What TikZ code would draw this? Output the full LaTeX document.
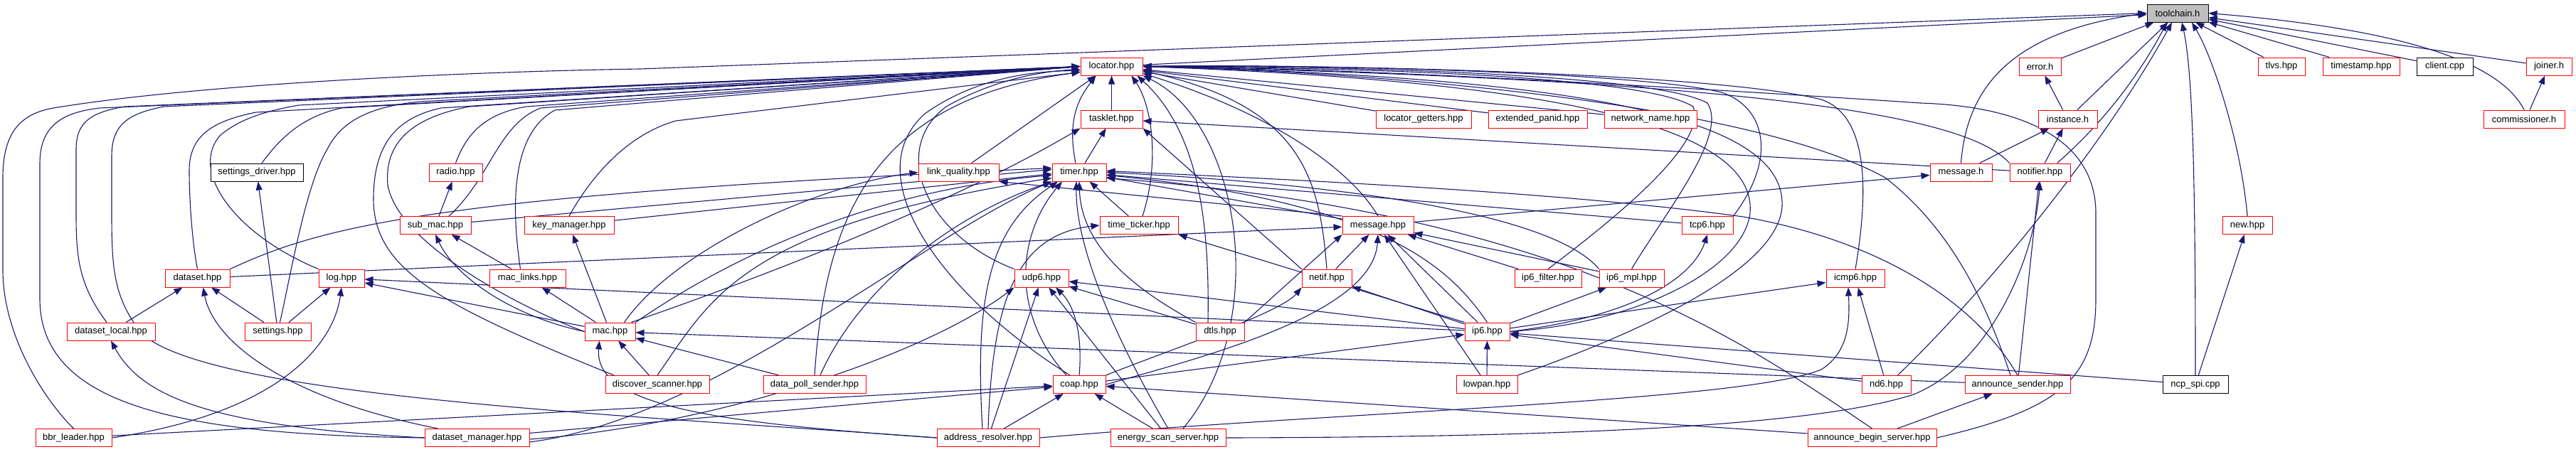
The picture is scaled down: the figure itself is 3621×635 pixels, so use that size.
\documentclass[tikz,border=0pt]{standalone}
\usepackage{fontspec}
\setmainfont{Liberation Sans}
\usetikzlibrary{arrows.meta}
\pgfdeclarelayer{bg}
\pgfsetlayers{bg,main}
\definecolor{dblue}{HTML}{191970}
\definecolor{rootgray}{HTML}{BFBFBF}
\tikzset{
  nd/.style={draw=red, fill=white, line width=1pt, minimum height=25pt, inner sep=0pt, font=\fontsize{13}{15}\selectfont},
  blk/.style={nd, draw=black},
  dep/.style={draw=dblue, line width=1.1pt, -{Triangle[length=12pt,width=9pt]}},
}
\begin{document}
\begin{tikzpicture}[x=1pt,y=-1pt]
\useasboundingbox (0,0) rectangle (3621,635);
% rank 0
\node[blk, fill=rootgray, minimum width=86pt] (toolchain) at (3061,18.5) {toolchain.h};
% rank 1
\node[nd, minimum width=87pt] (locator) at (1562.5,93.5) {locator.hpp};
\node[nd, minimum width=59pt] (error) at (2867.5,93.5) {error.h};
\node[nd, minimum width=66pt] (tlvs) at (3207,93.5) {tlvs.hpp};
\node[nd, minimum width=108pt] (timestamp) at (3319,93.5) {timestamp.hpp};
\node[blk, minimum width=79pt] (client) at (3436.5,93.5) {client.cpp};
\node[nd, minimum width=64pt] (joiner) at (3583,93.5) {joiner.h};
% rank 2
\node[nd, minimum width=87pt] (tasklet) at (1562.5,167.5) {tasklet.hpp};
\node[nd, minimum width=134pt] (locgetters) at (2001,167.5) {locator\_getters.hpp};
\node[nd, minimum width=139pt] (extpanid) at (2161.5,167.5) {extended\_panid.hpp};
\node[nd, minimum width=130pt] (netname) at (2320,167.5) {network\_name.hpp};
\node[nd, minimum width=83pt] (instance) at (2906.5,167.5) {instance.h};
\node[nd, minimum width=114pt] (commissioner) at (3548,167.5) {commissioner.h};
% rank 3
\node[blk, minimum width=130pt] (settingsdriver) at (361,242.5) {settings\_driver.hpp};
\node[nd, minimum width=75pt] (radio) at (640.5,242.5) {radio.hpp};
\node[nd, minimum width=113pt] (linkquality) at (1347.5,242.5) {link\_quality.hpp};
\node[nd, minimum width=76pt] (timer) at (1517,242.5) {timer.hpp};
\node[nd, minimum width=87pt] (messageh) at (2756.5,242.5) {message.h};
\node[nd, minimum width=85pt] (notifier) at (2867.5,242.5) {notifier.hpp};
% rank 4
\node[nd, minimum width=100pt] (submac) at (612,317) {sub\_mac.hpp};
\node[nd, minimum width=126pt] (keymanager) at (800,317) {key\_manager.hpp};
\node[nd, minimum width=110pt] (timeticker) at (1601,317) {time\_ticker.hpp};
\node[nd, minimum width=100pt] (messagehpp) at (1937,317) {message.hpp};
\node[nd, minimum width=72pt] (tcp6) at (2400,317) {tcp6.hpp};
\node[nd, minimum width=70pt] (new) at (3159,317) {new.hpp};
% rank 5
\node[nd, minimum width=91pt] (dataset) at (277.5,391.5) {dataset.hpp};
\node[nd, minimum width=64pt] (log) at (480,391.5) {log.hpp};
\node[nd, minimum width=107pt] (maclinks) at (741.5,391.5) {mac\_links.hpp};
\node[nd, minimum width=76pt] (udp6) at (1464,391.5) {udp6.hpp};
\node[nd, minimum width=70pt] (netif) at (1865,391.5) {netif.hpp};
\node[nd, minimum width=94pt] (ip6filter) at (2176,391.5) {ip6\_filter.hpp};
\node[nd, minimum width=91pt] (ip6mpl) at (2293.5,391.5) {ip6\_mpl.hpp};
\node[nd, minimum width=82pt] (icmp6) at (2608,391.5) {icmp6.hpp};
% rank 6
\node[nd, minimum width=124pt] (datasetlocal) at (156,466.5) {dataset\_local.hpp};
\node[nd, minimum width=93pt] (settings) at (390.5,466.5) {settings.hpp};
\node[nd, minimum width=71pt] (mac) at (857.5,466.5) {mac.hpp};
\node[nd, minimum width=68pt] (dtls) at (1715,466.5) {dtls.hpp};
\node[nd, minimum width=63pt] (ip6) at (2090.5,466.5) {ip6.hpp};
% rank 7
\node[nd, minimum width=146pt] (discover) at (924,541) {discover\_scanner.hpp};
\node[nd, minimum width=144pt] (datapoll) at (1145,541) {data\_poll\_sender.hpp};
\node[nd, minimum width=74pt] (coap) at (1517,541) {coap.hpp};
\node[nd, minimum width=86pt] (lowpan) at (2090,541) {lowpan.hpp};
\node[nd, minimum width=69pt] (nd6) at (2651.5,541) {nd6.hpp};
\node[nd, minimum width=148pt] (announcesender) at (2836,541) {announce\_sender.hpp};
\node[blk, minimum width=92pt] (ncpspi) at (3086,541) {ncp\_spi.cpp};
% rank 8
\node[nd, minimum width=107pt] (bbrleader) at (103.5,616) {bbr\_leader.hpp};
\node[nd, minimum width=147pt] (datasetmanager) at (670.5,616) {dataset\_manager.hpp};
\node[nd, minimum width=144pt] (addrresolver) at (1389,616) {address\_resolver.hpp};
\node[nd, minimum width=162pt] (energyscan) at (1642,616) {energy\_scan\_server.hpp};
\node[nd, minimum width=181pt] (announcebegin) at (2631.5,616) {announce\_begin\_server.hpp};

\begin{pgfonlayer}{bg}
% ---- toolchain.h and top-right cluster
\draw[dep] (locator) -- (toolchain);
\draw[dep] (bbrleader.north) .. controls (60,560) and (4,470) .. (4,380) -- (4,250) .. controls (4,185) and (30,160) .. (75,152) .. controls (300,115) and (700,100) .. (900,97) -- (toolchain.west);
\draw[dep] (error) -- (toolchain);
\draw[dep] (instance) -- (toolchain);
\draw[dep] (messageh.north) .. controls (2765,120) and (2830,45) .. (toolchain.west);
\draw[dep] ([xshift=24pt]notifier.north) .. controls (2960,170) and (3010,100) .. ([xshift=-15pt]toolchain.south);
\draw[dep] ([xshift=16pt]nd6.north) .. controls (2800,400) and (2960,200) .. ([xshift=-8pt]toolchain.south);
\draw[dep] (ncpspi.north) .. controls (3086,250) and (3082,100) .. ([xshift=6pt]toolchain.south);
\draw[dep] (new.north) .. controls (3150,200) and (3110,80) .. ([xshift=20pt]toolchain.south);
\draw[dep] (tlvs) -- (toolchain);
\draw[dep] (timestamp) -- (toolchain);
\draw[dep] (client) -- (toolchain);
\draw[dep] (joiner) -- (toolchain);
\draw[dep] (commissioner.north) .. controls (3520,100) and (3420,45) .. (toolchain.east);
\draw[dep] ([xshift=8pt]commissioner.north) -- (joiner);
\draw[dep] (instance) -- (error);
\draw[dep] (messageh) -- (instance);
\draw[dep] (notifier) -- (instance);
\draw[dep] (ncpspi) -- (new);
\draw[dep] (messagehpp) -- (messageh);
% ---- into locator.hpp from below / right
\draw[dep] (tasklet) -- (locator);
\draw[dep] ([xshift=-5pt]timer.north) .. controls (1500,170) and (1515,140) .. ([xshift=-22pt]locator.south);
\draw[dep] ([xshift=18pt]linkquality.north) -- ([xshift=-22pt]locator.south);
\draw[dep] ([xshift=5pt]timeticker.north) .. controls (1630,230) and (1620,150) .. ([xshift=28pt]locator.south);
\draw[dep] ([xshift=-17pt]dtls.north) .. controls (1700,330) and (1690,190) .. ([xshift=36pt]locator.south);
\draw[dep] ([xshift=21pt]energyscan.north) .. controls (1790,450) and (1740,170) .. (locator.south east);
\draw[dep] (datapoll.north) .. controls (1160,300) and (1230,140) .. ([yshift=-8pt]locator.west);
\draw[dep] ([xshift=-13pt]coap.north) .. controls (1330,420) and (1200,250) .. (1300,160) .. controls (1370,110) and (1450,100) .. ([yshift=-6pt]locator.west);
\draw[dep] (udp6.north west) .. controls (1300,330) and (1250,210) .. (1330,150) .. controls (1400,110) and (1470,100) .. ([yshift=-4pt]locator.west);
\draw[dep] (messagehpp.north) .. controls (1900,240) and (1790,160) .. ([yshift=-10pt]locator.east);
\draw[dep] (netif.north) .. controls (1855,250) and (1830,150) .. ([yshift=-6pt]locator.east);
\draw[dep] (ip6.east) .. controls (2300,455) and (2450,380) .. (2460,300) .. controls (2470,180) and (2200,115) .. (locator.east);
\draw[dep] (lowpan.north east) .. controls (2300,470) and (2500,380) .. (2505,290) .. controls (2510,170) and (2250,110) .. (locator.east);
\draw[dep] (ip6filter.north) .. controls (2280,300) and (2400,200) .. (2380,150) .. controls (2300,100) and (1800,95) .. (locator.east);
\draw[dep] (ip6mpl.north) .. controls (2340,300) and (2430,190) .. (2400,145) .. controls (2320,100) and (1800,92) .. (locator.east);
\draw[dep] (tcp6.north east) .. controls (2500,220) and (2480,150) .. (2420,130) .. controls (2300,100) and (1800,90) .. (locator.east);
\draw[dep] (icmp6.north) .. controls (2630,250) and (2620,160) .. (2560,140) .. controls (2400,100) and (1800,90) .. (locator.east);
\draw[dep] (locgetters) -- (locator);
\draw[dep] (extpanid) -- (locator);
\draw[dep] (netname) -- (locator);
\draw[dep] (notifier.north west) .. controls (2780,180) and (2600,115) .. (locator.east);
\draw[dep] (announcebegin.east) .. controls (2900,575) and (2946,530) .. (2946,420) -- (2946,300) .. controls (2946,200) and (2850,150) .. (2700,145) .. controls (2400,125) and (1900,95) .. (locator.east);
\draw[dep] ([xshift=-10pt]announcesender.north) .. controls (2790,420) and (2740,320) .. (2650,250) .. controls (2450,140) and (1900,100) .. (locator.east);
% ---- left bundle into locator.hpp
\draw[dep] (datasetmanager.west) .. controls (250,612) and (56,570) .. (56,420) -- (56,230) .. controls (56,175) and (90,158) .. (140,152) -- (locator.west);
\draw[dep] ([xshift=-6pt]datasetlocal.north) .. controls (110,400) and (107,360) .. (107,300) -- (107,210) .. controls (107,170) and (130,158) .. (175,150) -- (locator.west);
\draw[dep] (addrresolver.west) .. controls (900,585) and (300,560) .. (200,470) .. controls (160,420) and (157,380) .. (157,300) -- (157,220) .. controls (157,175) and (180,160) .. (230,150) -- (locator.west);
\draw[dep] (dataset.north) .. controls (270,340) and (266,280) .. (266,240) .. controls (266,190) and (300,170) .. (360,158) -- (locator.west);
\draw[dep] (log.north west) .. controls (330,330) and (265,240) .. (310,190) .. controls (340,165) and (380,155) .. (420,148) -- (locator.west);
\draw[dep] ([xshift=7pt]settingsdriver.north) .. controls (390,200) and (420,165) .. (480,152) -- (locator.west);
\draw[dep] ([xshift=3pt]settings.north) .. controls (410,380) and (430,260) .. (460,210) .. controls (480,170) and (520,150) .. (590,143) -- (locator.west);
\draw[dep] ([xshift=-61pt]discover.north) .. controls (620,430) and (525,380) .. (525,280) .. controls (525,200) and (560,165) .. (620,152) -- (locator.west);
\draw[dep] (mac.west) .. controls (760,445) and (560,350) .. (545,260) .. controls (540,200) and (580,165) .. (660,150) -- (locator.west);
\draw[dep] (radio.north) .. controls (655,190) and (680,160) .. (740,150) -- (locator.west);
\draw[dep] ([xshift=19pt]submac.north) .. controls (690,250) and (700,175) .. (760,152) -- (locator.west);
\draw[dep] ([xshift=-10pt]maclinks.north) .. controls (720,300) and (715,190) .. (780,155) -- (locator.west);
\draw[dep] (keymanager.north) .. controls (830,250) and (880,190) .. (950,170) -- ([yshift=-8pt]locator.west);
% ---- into timer.hpp
\draw[dep] (timer) -- (tasklet);
\draw[dep] (submac) -- ([yshift=4pt]timer.west);
\draw[dep] (keymanager) -- ([yshift=-2pt]timer.west);
\draw[dep] (dataset.north east) .. controls (450,320) and (600,275) .. ([yshift=6pt]timer.west);
\draw[dep] (mac.north east) .. controls (1000,380) and (1200,270) .. ([yshift=-4pt]timer.west);
\draw[dep] (discover.north) .. controls (1000,420) and (1040,320) .. ([yshift=-8pt]timer.west);
\draw[dep] ([xshift=8pt]datapoll.north) .. controls (1200,420) and (1320,310) .. (timer.south west);
\draw[dep] ([yshift=-6pt]datasetmanager.east) .. controls (1000,590) and (1300,330) .. (timer.south west);
\draw[dep] ([xshift=-8pt]addrresolver.north) .. controls (1370,420) and (1390,320) .. ([xshift=-30pt]timer.south);
\draw[dep] ([xshift=-18pt]coap.north) .. controls (1420,440) and (1430,330) .. ([xshift=-24pt]timer.south);
\draw[dep] (energyscan.north) .. controls (1570,480) and (1512,350) .. ([xshift=-4pt]timer.south);
\draw[dep] (dtls.north west) .. controls (1600,410) and (1520,350) .. (timer.south);
\draw[dep] (timeticker) -- (timer);
\draw[dep] (messagehpp) -- (timer);
\draw[dep] (tcp6) -- (timer);
\draw[dep] (ip6mpl.north west) .. controls (2200,320) and (2000,265) .. (timer.east);
\draw[dep] (ip6.north) .. controls (2040,380) and (1950,285) .. ([yshift=-4pt]timer.east);
\draw[dep] (announcesender.north) .. controls (2780,430) and (2650,340) .. (2450,305) .. controls (2200,270) and (1800,252) .. ([yshift=2pt]timer.east);
\draw[dep] (announcebegin.north) .. controls (2450,480) and (2200,300) .. ([yshift=-8pt]timer.east);
% ---- tasklet, link_quality, time_ticker
\draw[dep] (notifier) -- (tasklet);
\draw[dep] (netif.north west) -- (tasklet.south east);
\draw[dep] ([xshift=30pt]mac.north) .. controls (1100,380) and (1350,280) .. (tasklet.south west);
\draw[dep] ([xshift=20pt]mac.north) .. controls (950,350) and (1150,260) .. (linkquality.west);
\draw[dep] (messagehpp.north west) -- (linkquality.south east);
\draw[dep] (addrresolver.north) .. controls (1395,420) and (1430,330) .. (timeticker.west);
\draw[dep] (ip6.north west) -- (timeticker.south east);
% ---- message.hpp
\draw[dep] (netif) -- (messagehpp);
\draw[dep] (ip6) -- (messagehpp);
\draw[dep] (lowpan) -- (messagehpp);
\draw[dep] (ip6filter) -- (messagehpp);
\draw[dep] (ip6mpl) -- (messagehpp);
\draw[dep] (coap.east) .. controls (1700,500) and (1930,440) .. (messagehpp.south);
\draw[dep] (dtls.north east) -- (messagehpp.south west);
\draw[dep] (dataset) -- (messagehpp);
% ---- udp6.hpp
\draw[dep] (coap.north) .. controls (1522,470) and (1510,430) .. ([xshift=20pt]udp6.south);
\draw[dep] (energyscan) -- (udp6);
\draw[dep] (addrresolver) -- (udp6);
\draw[dep] ([yshift=-2pt]datasetmanager.east) .. controls (1000,600) and (1300,500) .. (udp6.south west);
\draw[dep] (dtls) -- (udp6);
\draw[dep] (ip6) -- (udp6);
% ---- coap.hpp
\draw[dep] (datasetmanager) -- (coap);
\draw[dep] (bbrleader) -- (coap);
\draw[dep] (addrresolver) -- (coap);
\draw[dep] (energyscan) -- (coap);
\draw[dep] (announcebegin) -- (coap);
\draw[dep] (coap.north east) .. controls (1650,490) and (1800,440) .. (netif.south west);
% ---- mac.hpp and left part
\draw[dep] (addrresolver.west) .. controls (1000,595) and (835,570) .. ([xshift=-15pt]mac.south);
\draw[dep] (discover) -- (mac);
\draw[dep] (datapoll) -- (mac);
\draw[dep] (announcesender) -- (mac);
\draw[dep] (mac) -- (log);
\draw[dep] (ip6) -- (log);
\draw[dep] (mac.west) .. controls (720,445) and (640,390) .. (submac.south);
\draw[dep] (maclinks) -- (submac);
\draw[dep] (mac) -- (maclinks);
\draw[dep] (mac) -- (keymanager);
\draw[dep] (submac) -- (radio);
\draw[dep] (settings) -- (settingsdriver);
\draw[dep] (settings) -- (log);
\draw[dep] (settings) -- (dataset);
\draw[dep] (datasetlocal) -- (dataset);
\draw[dep] ([xshift=-55pt]datasetmanager.north) .. controls (400,560) and (300,480) .. ([xshift=8pt]dataset.south);
\draw[dep] (datasetmanager.west) .. controls (300,600) and (200,560) .. (datasetlocal.south);
\draw[dep] (bbrleader.east) .. controls (400,580) and (470,480) .. (log.south);
% ---- ip6 / icmp6 / notifier
\draw[dep] (ip6) -- (icmp6);
\draw[dep] (nd6) -- (icmp6);
\draw[dep] (addrresolver.east) .. controls (1900,578) and (2450,565) .. (2560,520) .. controls (2600,495) and (2600,450) .. ([xshift=-10pt]icmp6.south);
\draw[dep] (coap) -- (ip6);
\draw[dep] (lowpan) -- (ip6);
\draw[dep] (nd6) -- (ip6);
\draw[dep] (ncpspi) -- (ip6);
\draw[dep] (ip6) -- (netif);
\draw[dep] (ip6.east) .. controls (2300,445) and (2380,390) .. (tcp6.south);
\draw[dep] (ip6) -- (ip6mpl);
\draw[dep] (announcesender) -- (notifier);
\draw[dep] (energyscan.east) .. controls (2200,615) and (2550,600) .. (2690,555) .. controls (2800,510) and (2860,360) .. (notifier.south);
\draw[dep] (announcebegin) -- (announcesender);
\end{pgfonlayer}
\end{tikzpicture}
\end{document}
